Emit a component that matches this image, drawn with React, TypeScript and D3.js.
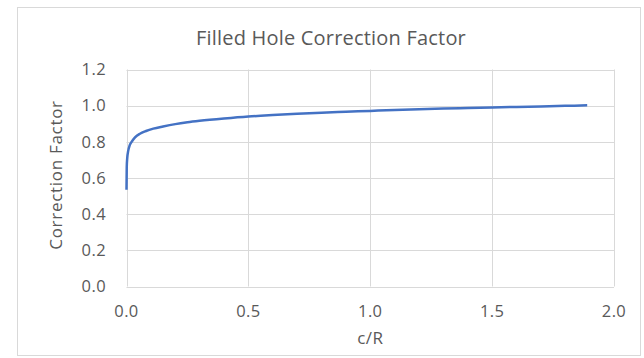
import React from "react";
import * as d3 from "d3";

const cR: number[] = [0, 0.001, 0.003, 0.007, 0.013, 0.021, 0.035, 0.055, 0.08, 0.11, 0.15, 0.2, 0.25, 0.3, 0.4, 0.5, 0.6, 0.7, 0.8, 0.9, 1.0, 1.1, 1.2, 1.3, 1.4, 1.5, 1.6, 1.7, 1.8, 1.89];
const factor: number[] = [0.535, 0.66, 0.71, 0.75, 0.78, 0.8, 0.825, 0.845, 0.86, 0.873, 0.885, 0.898, 0.908, 0.916, 0.929, 0.94, 0.948, 0.955, 0.961, 0.966, 0.971, 0.976, 0.98, 0.984, 0.987, 0.99, 0.993, 0.996, 0.999, 1.002];
const xTicks: number[] = [0, 0.5, 1.0, 1.5, 2.0];
const yTicks: number[] = [0, 0.2, 0.4, 0.6, 0.8, 1.0, 1.2];
const title = "Filled Hole Correction Factor";
const xTitle = "c/R";
const yTitle = "Correction Factor";

export default function App() {
  const W = 644, H = 358;
  const left = 126.5, right = 614, top = 69.5, bottom = 286.5;
  const x = d3.scaleLinear().domain([0, 2]).range([left, right]);
  const y = d3.scaleLinear().domain([0, 1.2]).range([bottom, top]);
  const pts = cR.map((c, i) => [c, factor[i]] as [number, number]);
  const line = d3.line<[number, number]>().x(d => x(d[0])).y(d => y(d[1])).curve(d3.curveMonotoneX);
  const font = "'Open Sans', Lato, sans-serif";
  const txt = "#595959";
  return (
    <svg width={W} height={H} style={{ position: "absolute", left: 0, top: 0, background: "#fff" }} fontFamily={font}>
      <rect x={17.5} y={7.5} width={623} height={348} fill="#fff" stroke="#d9d9d9" strokeWidth={1} />
      <text x={331} y={38} dy="0.35em" textAnchor="middle" fontSize={20} letterSpacing={0.2} fill={txt}>{title}</text>
      {yTicks.map(t => (
        <g key={"y" + t}>
          <line x1={left} x2={right} y1={Math.round(y(t)) + 0.5} y2={Math.round(y(t)) + 0.5} stroke="#d9d9d9" strokeWidth={1} />
          <text x={106} y={y(t)} dy="0.35em" textAnchor="end" fontSize={16.5} letterSpacing={0.4} fill={txt}>{t.toFixed(1)}</text>
        </g>
      ))}
      {xTicks.map(t => (
        <g key={"x" + t}>
          <line x1={Math.round(x(t)) + 0.5} x2={Math.round(x(t)) + 0.5} y1={top} y2={bottom} stroke="#d9d9d9" strokeWidth={1} />
          <text x={x(t)} y={311} dy="0.35em" textAnchor="middle" fontSize={16.5} letterSpacing={0.4} fill={txt}>{t.toFixed(1)}</text>
        </g>
      ))}
      <path d={line(pts) || ""} fill="none" stroke="#4472c4" strokeWidth={2.5} strokeLinejoin="round" />
      <text x={x(1)} y={338} dy="0.35em" textAnchor="middle" fontSize={17} letterSpacing={0.4} fill={txt}>{xTitle}</text>
      <text transform={`translate(56,${(top + bottom) / 2 - 3}) rotate(-90)`} dy="0.35em" textAnchor="middle" fontSize={17} letterSpacing={0.7} fill={txt}>{yTitle}</text>
    </svg>
  );
}
